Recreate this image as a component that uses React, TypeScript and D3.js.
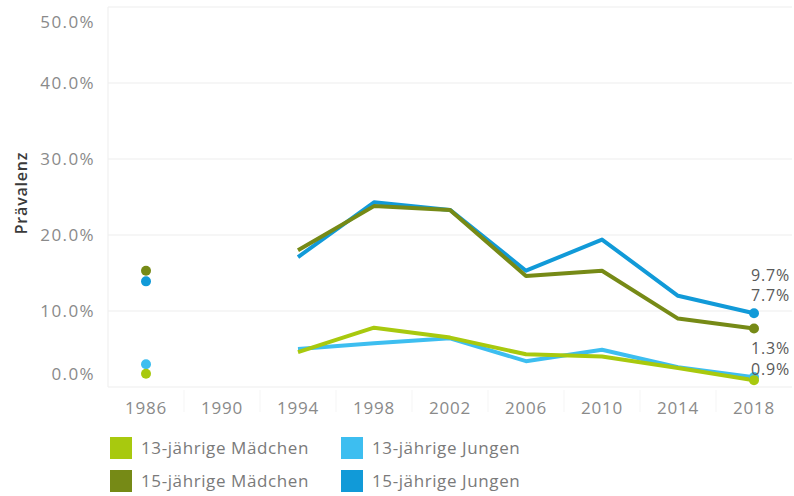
import React from "react";
import * as d3 from "d3";

// survey years (1990 not surveyed)
const years = [1986, 1990, 1994, 1998, 2002, 2006, 2010, 2014, 2018];
const xTicks = [1986, 1990, 1994, 1998, 2002, 2006, 2010, 2014, 2018];
const yTicks = [0, 10, 20, 30, 40, 50];

const seriesNames = [
  "13-jährige Mädchen",
  "13-jährige Jungen",
  "15-jährige Mädchen",
  "15-jährige Jungen",
];
const maedchen13 = [1.75, null, 4.6, 7.8, 6.5, 4.3, 4.0, 2.5, 0.9];
const jungen13 = [3.0, null, 5.0, 5.75, 6.4, 3.4, 4.9, 2.6, 1.3];
const maedchen15 = [15.3, null, 18.0, 23.8, 23.3, 14.6, 15.3, 9.0, 7.7];
const jungen15 = [13.9, null, 17.1, 24.3, 23.3, 15.3, 19.4, 12.0, 9.7];

const colors: Record<string, string> = {
  "13-jährige Mädchen": "#a8c90e",
  "13-jährige Jungen": "#3dbef0",
  "15-jährige Mädchen": "#768a16",
  "15-jährige Jungen": "#119ad8",
};

// label offsets for the end-of-line labels
const labelDy: Record<string, number> = {
  "13-jährige Mädchen": -11,
  "13-jährige Jungen": -29,
  "15-jährige Mädchen": -33,
  "15-jährige Jungen": -38,
};

const W = 794;
const H = 496;
const plot = { left: 108, right: 792, top: 7, bottom: 387 };
const font = "'Open Sans', sans-serif";

export default function App() {
  const x = d3.scaleLinear().domain([1984, 2020]).range([plot.left, plot.right]);
  const y = d3.scaleLinear().domain([0, 50]).range([plot.bottom, plot.top]);

  const data: Record<string, (number | null)[]> = {
    "13-jährige Mädchen": maedchen13,
    "13-jährige Jungen": jungen13,
    "15-jährige Mädchen": maedchen15,
    "15-jährige Jungen": jungen15,
  };
  // boys drawn first, girls on top
  const drawOrder = [
    "13-jährige Jungen",
    "15-jährige Jungen",
    "13-jährige Mädchen",
    "15-jährige Mädchen",
  ];

  const line = d3
    .line<number | null>()
    .defined((d) => d !== null)
    .x((_, i) => x(years[i]))
    .y((d) => y(d as number));

  const last = years.length - 1;

  return (
    <svg
      width={W}
      height={H}
      style={{ position: "absolute", left: 0, top: 0, background: "#fff" }}
      fontFamily={font}
    >
      {/* grid */}
      {yTicks.map((t) => (
        <line
          key={"g" + t}
          x1={plot.left}
          x2={plot.right}
          y1={y(t)}
          y2={y(t)}
          stroke="#ededed"
          strokeWidth={1}
        />
      ))}
      <line
        x1={plot.left}
        x2={plot.left}
        y1={plot.top}
        y2={plot.bottom}
        stroke="#ededed"
      />
      {/* faint header dividers between year labels */}
      {xTicks.slice(0, -1).map((t) => (
        <line
          key={"d" + t}
          x1={x(t + 2)}
          x2={x(t + 2)}
          y1={plot.bottom + 3}
          y2={plot.bottom + 25}
          stroke="#f5f5f5"
        />
      ))}

      {/* y axis labels */}
      {yTicks.map((t) => {
        const ty = Math.min(Math.max(y(t), plot.top + 15), plot.bottom - 13);
        return (
          <text
            key={"y" + t}
            x={95}
            y={ty}
            dy="0.36em"
            textAnchor="end"
            fontSize={17}
            letterSpacing={1.4}
            fill="#8a8a8a"
          >
            {d3.format(".1f")(t) + "%"}
          </text>
        );
      })}
      <text
        transform={`translate(27,193) rotate(-90)`}
        textAnchor="middle"
        fontSize={16}
        fontWeight={600}
        letterSpacing={0.8}
        fill="#3a3a3a"
      >
        Prävalenz
      </text>

      {/* x axis labels */}
      {xTicks.map((t) => (
        <text
          key={"x" + t}
          x={x(t)}
          y={408}
          dy="0.36em"
          textAnchor="middle"
          fontSize={17}
          letterSpacing={0.8}
          fill="#8a8a8a"
        >
          {t}
        </text>
      ))}

      {/* lines */}
      {drawOrder.map((name) => (
        <path
          key={"l" + name}
          d={line(data[name]) || ""}
          fill="none"
          stroke={colors[name]}
          strokeWidth={4}
          strokeLinejoin="round"
        />
      ))}
      {/* isolated first point and last point */}
      {drawOrder.map((name) => (
        <g key={"p" + name}>
          <circle cx={x(years[0])} cy={y(data[name][0] as number)} r={5} fill={colors[name]} />
          <circle cx={x(years[last])} cy={y(data[name][last] as number)} r={5} fill={colors[name]} />
        </g>
      ))}
      {/* end labels */}
      {seriesNames.map((name) => (
        <text
          key={"t" + name}
          x={790}
          y={y(data[name][last] as number) + labelDy[name]}
          dy="0.36em"
          textAnchor="end"
          fontSize={16}
          letterSpacing={0.8}
          fill="#5a5a5a"
        >
          {d3.format(".1f")(data[name][last] as number) + "%"}
        </text>
      ))}

      {/* legend */}
      {[
        ["13-jährige Mädchen", 110, 437],
        ["13-jährige Jungen", 341, 437],
        ["15-jährige Mädchen", 110, 470],
        ["15-jährige Jungen", 341, 470],
      ].map(([name, lx, ly]) => (
        <g key={"lg" + name} transform={`translate(${lx},${ly})`}>
          <rect width={22} height={22} fill={colors[name as string]} />
          <text
            x={31}
            y={11}
            dy="0.36em"
            fontSize={17}
            letterSpacing={0.6}
            fill="#7a7a7a"
          >
            {name}
          </text>
        </g>
      ))}
    </svg>
  );
}
